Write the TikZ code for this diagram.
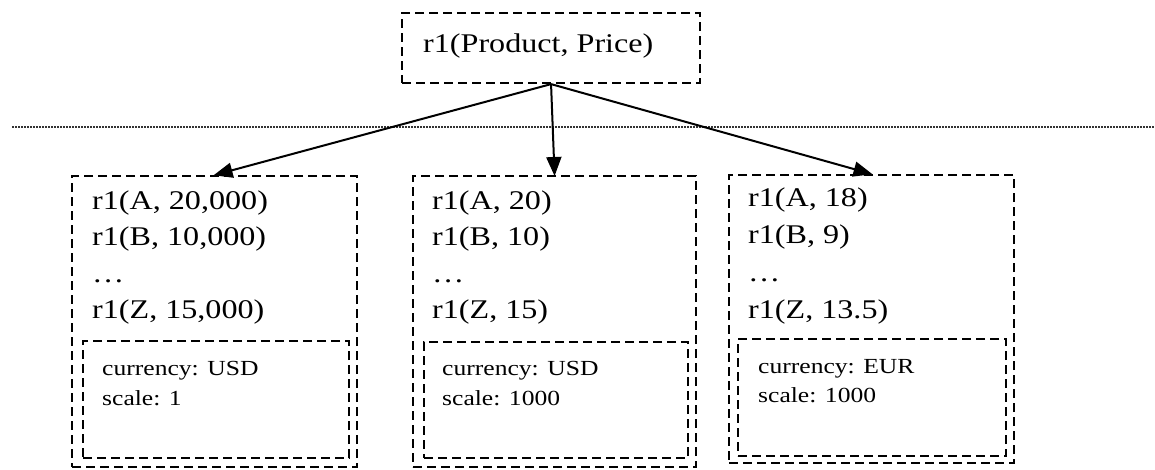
\documentclass[tikz,border=0pt]{standalone}
\usepackage{fontspec}
\setmainfont{Liberation Serif}[FakeStretch=1.19]
\usetikzlibrary{arrows.meta}
\tikzset{
  dbox/.style={draw, line width=2.1pt, dash pattern=on 9pt off 5pt, minimum width=#1, anchor=north west, inner sep=0pt},
  bigtxt/.style={anchor=base west, inner sep=0pt, font=\fontsize{27}{32}\selectfont},
  smalltxt/.style={anchor=base west, inner sep=0pt, font=\fontsize{21.5}{26}\selectfont},
  conn/.style={line width=2pt, -{Triangle[length=19pt,width=15pt]}, shorten >=-1pt},
  sep/.style={line width=1.4pt, dash pattern=on 1.5pt off 1.5pt, black!80}
}
\begin{document}
\begin{tikzpicture}[x=1pt,y=-1pt]
\useasboundingbox[fill=white] (0,0) rectangle (1155,469);
% separator
\coordinate (dl) at (12,127);
\coordinate (dr) at (1155,127);
\draw[sep] (dl) -- (dr);
% top box
\node[dbox=298pt, minimum height=70pt] (top) at (401,12) {};
\node[bigtxt] (toptxt) at (423,52) {r1(Product, Price)};
% left box
\node[dbox=285pt, minimum height=291pt] (L) at (71,175) {};
\node[dbox=266pt, minimum height=117pt] (Li) at (82,340) {};
\node[bigtxt] (L1) at (92,209) {r1(A, 20,000)};
\node[bigtxt] (L2) at (92,245) {r1(B, 10,000)};
\node[bigtxt] (L3) at (92,282) {\ldots};
\node[bigtxt] (L4) at (92,318) {r1(Z, 15,000)};
\node[smalltxt] (Ls1) at (102,375) {currency: USD};
\node[smalltxt] (Ls2) at (102,405) {scale: 1};
% middle box
\node[dbox=283pt, minimum height=291pt] (M) at (412,175) {};
\node[dbox=264pt, minimum height=116pt] (Mi) at (423,341) {};
\node[bigtxt] (M1) at (432,209) {r1(A, 20)};
\node[bigtxt] (M2) at (432,245) {r1(B, 10)};
\node[bigtxt] (M3) at (432,282) {\ldots};
\node[bigtxt] (M4) at (432,318) {r1(Z, 15)};
\node[smalltxt] (Ms1) at (442,375) {currency: USD};
\node[smalltxt] (Ms2) at (442,405) {scale: 1000};
% right box
\node[dbox=285pt, minimum height=288pt] (R) at (728,174) {};
\node[dbox=268pt, minimum height=117pt] (Ri) at (737,338) {};
\node[bigtxt] (R1) at (748,206) {r1(A, 18)};
\node[bigtxt] (R2) at (748,243) {r1(B, 9)};
\node[bigtxt] (R3) at (748,281) {\ldots};
\node[bigtxt] (R4) at (748,318) {r1(Z, 13.5)};
\node[smalltxt] (Rs1) at (758,373) {currency: EUR};
\node[smalltxt] (Rs2) at (758,402) {scale: 1000};
% connectors
\draw[conn] (top.south) -- (L.north);
\draw[conn] (top.south) -- (M.north);
\draw[conn] (top.south) -- (R.north);
\end{tikzpicture}
\end{document}
